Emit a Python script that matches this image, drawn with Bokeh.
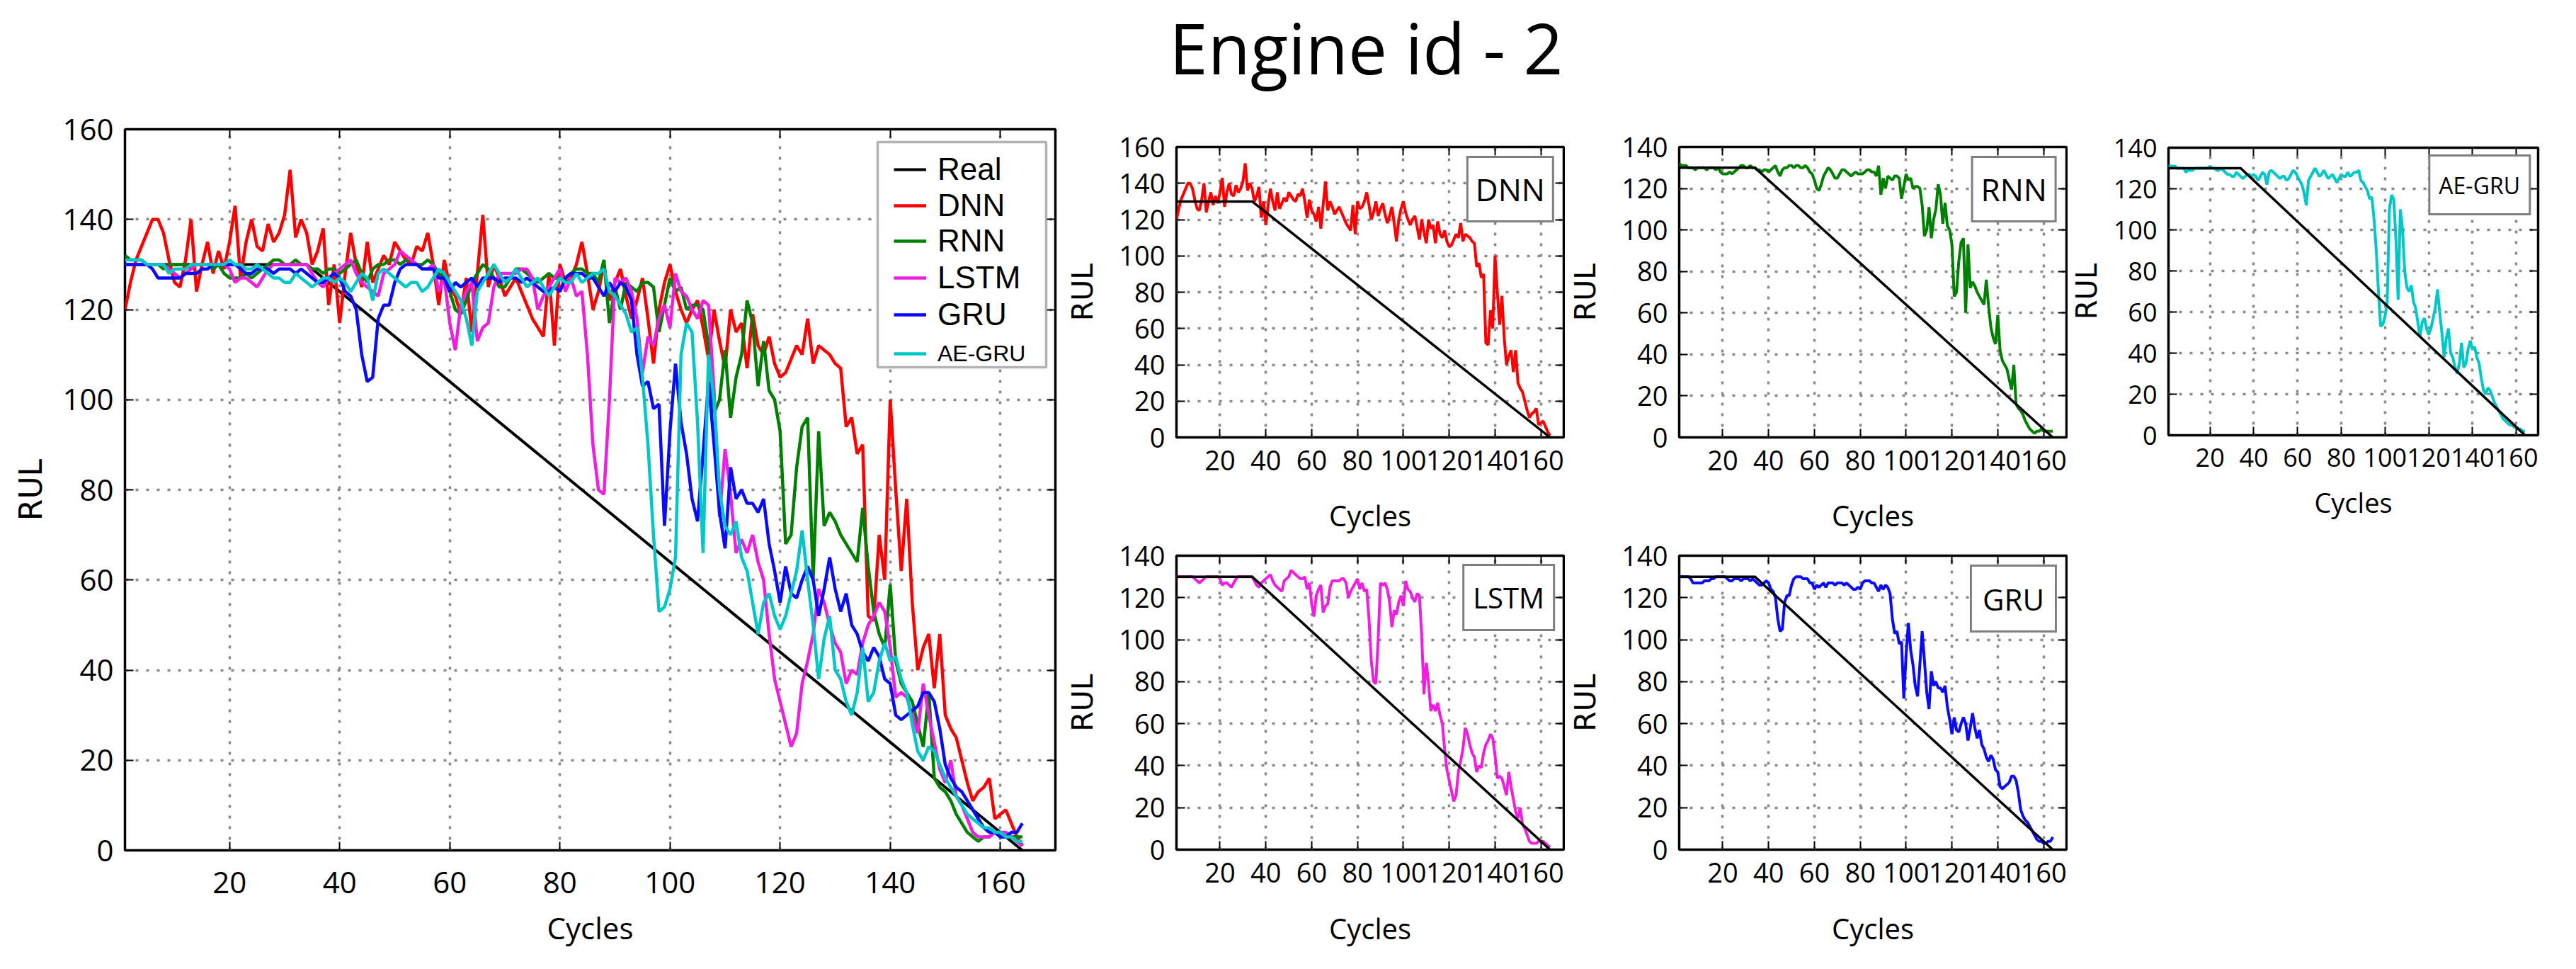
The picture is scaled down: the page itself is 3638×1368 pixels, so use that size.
from bokeh.plotting import figure
from bokeh.models import (FixedTicker, LinearAxis, Legend, LegendItem,
                          BoxAnnotation, Label, Range1d, Spacer)
from bokeh.layouts import row, column
from bokeh.embed import file_html
from bokeh.resources import INLINE

# ---------------- data ----------------
TITLE = "Engine id - 2"
cycles = list(range(1, 165))
real_x = [1, 34, 164]
real_y = [130, 130, 0]

dnn = [120, 126, 131, 134, 137, 140, 140, 137, 131, 126,
       125, 131, 140, 124, 130, 135, 128, 133, 129, 135,
       143, 127, 135, 140, 134, 133, 139, 135, 137, 141,
       151, 136, 140, 137, 130, 133, 138, 121, 130, 117,
       128, 137, 130, 125, 135, 126, 129, 132, 130, 135,
       133, 131, 130, 134, 133, 137, 130, 121, 131, 125,
       123, 119, 127, 115, 128, 141, 125, 130, 127, 123,
       125, 127, 124, 121, 118, 116, 114, 128, 112, 130,
       126, 127, 130, 135, 128, 120, 124, 130, 122, 126,
       129, 123, 118, 122, 127, 118, 108, 120, 126, 130,
       124, 120, 117, 120, 122, 116, 109, 120, 113, 107,
       120, 115, 117, 107, 119, 112, 110, 114, 108, 105,
       106, 109, 112, 110, 118, 108, 112, 111, 110, 108,
       107, 94, 96, 88, 90, 52, 51, 70, 60, 100,
       80, 62, 78, 55, 40, 45, 48, 36, 48, 30,
       27, 25, 20, 15, 11, 13, 14, 16, 7, 8,
       9, 6, 3, 1]

rnn = [132, 131, 131, 131, 130, 130, 130, 129, 130, 130,
       130, 130, 129, 130, 130, 130, 129, 130, 128, 127,
       127, 127, 128, 127, 128, 129, 130, 131, 131, 130,
       130, 131, 130, 130, 129, 129, 128, 129, 129, 128,
       129, 130, 131, 128, 126, 129, 130, 130, 131, 131,
       130, 131, 131, 130, 130, 131, 130, 128, 127, 124,
       120, 119, 122, 126, 128, 130, 129, 127, 125, 125,
       127, 129, 129, 128, 127, 126, 127, 128, 127, 127,
       127, 128, 129, 129, 128, 128, 126, 131, 117, 125,
       120, 126, 125, 124, 126, 126, 125, 115, 121, 127,
       124, 125, 120, 121, 121, 120, 112, 97, 100, 111,
       96, 105, 110, 122, 117, 103, 113, 102, 100, 93,
       68, 70, 85, 94, 96, 60, 93, 72, 75, 73,
       70, 68, 66, 64, 76, 63, 53, 48, 45, 59,
       42, 37, 35, 33, 28, 23, 35, 16, 14, 13,
       11, 8, 6, 4, 3, 2, 3, 3, 4, 3,
       3, 3, 3, 3]

lstm = [130, 130, 130, 130, 130, 130, 130, 130, 129, 128,
        127, 128, 129, 130, 130, 130, 130, 130, 130, 129,
        126, 127, 127, 126, 125, 127, 129, 130, 130, 130,
        130, 130, 130, 130, 128, 126, 125, 127, 128, 129,
        130, 131, 128, 126, 125, 124, 123, 128, 129, 130,
        133, 132, 131, 130, 129, 129, 130, 124, 127, 117,
        111, 121, 124, 126, 113, 116, 117, 125, 128, 128,
        128, 128, 129, 129, 127, 120, 123, 125, 127, 129,
        124, 127, 123, 124, 110, 90, 80, 79, 100, 127,
        126, 127, 124, 118, 106, 114, 112, 118, 121, 116,
        128, 124, 123, 120, 118, 122, 121, 102, 74, 89,
        79, 66, 69, 66, 70, 64, 60, 48, 38, 33,
        28, 23, 26, 37, 42, 48, 58, 55, 50, 46,
        44, 37, 40, 39, 46, 50, 52, 55, 53, 45,
        34, 35, 34, 30, 26, 37, 30, 24, 18, 15,
        20, 12, 10, 7, 4, 3, 3, 3, 4, 4,
        4, 3, 2, 1]

gru = [130, 130, 130, 130, 130, 129, 127, 127, 127, 127,
       127, 128, 128, 128, 129, 129, 130, 130, 130, 130,
       130, 129, 128, 128, 129, 129, 129, 128, 129, 129,
       129, 128, 129, 128, 127, 126, 126, 127, 128, 127,
       124, 123, 120, 110, 104, 105, 118, 121, 121, 126,
       129, 130, 130, 130, 129, 129, 129, 127, 127, 124,
       126, 125, 126, 127, 125, 127, 127, 127, 126, 127,
       127, 127, 126, 127, 126, 125, 124, 124, 125, 124,
       127, 128, 128, 128, 127, 127, 125, 123, 126, 124,
       126, 125, 122, 110, 103, 104, 98, 99, 72, 93,
       108, 95, 88, 78, 73, 88, 104, 90, 75, 67,
       85, 78, 80, 77, 77, 75, 78, 68, 62, 55,
       63, 57, 56, 60, 63, 60, 52, 58, 65, 58,
       53, 57, 50, 48, 44, 42, 45, 43, 38, 37,
       30, 29, 30, 31, 32, 35, 35, 33, 27, 19,
       16, 14, 13, 11, 9, 7, 5, 4, 4, 3,
       3, 4, 4, 6]

ae_gru = [131, 131, 131, 131, 130, 130, 130, 130, 128, 129,
          129, 129, 130, 130, 130, 130, 130, 130, 130, 131,
          130, 130, 129, 129, 130, 129, 128, 127, 127, 126,
          126, 128, 127, 126, 125, 126, 127, 127, 126, 127,
          126, 124, 126, 128, 127, 122, 128, 129, 128, 127,
          126, 125, 126, 126, 124, 125, 127, 129, 128, 126,
          124, 122, 118, 112, 124, 126, 128, 130, 128, 126,
          127, 129, 127, 125, 126, 127, 125, 123, 125, 127,
          126, 126, 128, 126, 127, 128, 128, 129, 124, 123,
          121, 119, 115, 116, 105, 90, 70, 53, 54, 58,
          65, 110, 117, 115, 95, 66, 110, 100, 80, 72,
          70, 73, 65, 62, 55, 48, 55, 57, 52, 49,
          52, 57, 62, 71, 60, 50, 38, 47, 52, 40,
          38, 33, 30, 35, 45, 33, 35, 42, 46, 42,
          43, 38, 35, 28, 22, 20, 23, 22, 19, 16,
          14, 12, 10, 8, 7, 6, 5, 5, 4, 4,
          3, 3, 2, 2]

series_names = ["DNN", "RNN", "LSTM", "GRU", "AE-GRU"]
series_values = [dnn, rnn, lstm, gru, ae_gru]
series_colors = ["#ff0000", "#008000", "#f01ee0", "#0a0aff", "#00c8c8"]
x_ticks = [20, 40, 60, 80, 100, 120, 140, 160]
y_ticks_160 = [0, 20, 40, 60, 80, 100, 120, 140, 160]
y_ticks_140 = [0, 20, 40, 60, 80, 100, 120, 140]
X_RANGE = (1, 170)

FONT = "Open Sans"
LEGEND_FONT = "Liberation Sans"
RUL_FONT = "DejaVu Sans"


def make_panel(width, height, borders, y_max, y_ticks, tick_px, cyc_px, rul_px,
               rul_standoff, cyc_standoff, xlab_standoff):
    left, right, top, bottom = borders
    p = figure(width=width, height=height, output_backend="svg",
               toolbar_location=None, title=None,
               x_range=Range1d(*X_RANGE), y_range=Range1d(0, y_max),
               min_border_left=left, min_border_right=right,
               min_border_top=top, min_border_bottom=bottom)
    p.background_fill_color = "white"
    p.border_fill_color = "white"
    p.outline_line_color = "black"
    p.outline_line_width = 3.5

    xa = p.xaxis[0]
    ya = p.yaxis[0]
    xa.ticker = FixedTicker(ticks=x_ticks)
    ya.ticker = FixedTicker(ticks=y_ticks)
    xa.axis_label = "Cycles"
    ya.axis_label = "RUL"
    for ax in (xa, ya):
        ax.major_label_text_font = FONT
        ax.major_label_text_font_size = f"{tick_px}px"
        ax.major_label_text_color = "black"
        ax.major_tick_in = 12
        ax.major_tick_out = 0
        ax.major_tick_line_width = 2
        ax.major_tick_line_color = "black"
        ax.minor_tick_line_color = None
        ax.axis_line_color = None
        ax.axis_label_text_font_style = "normal"
        ax.axis_label_text_color = "black"
    xa.major_label_standoff = xlab_standoff
    ya.major_label_standoff = 16
    xa.axis_label_text_font = FONT
    xa.axis_label_text_font_size = f"{cyc_px}px"
    xa.axis_label_standoff = cyc_standoff
    ya.axis_label_text_font = RUL_FONT
    ya.axis_label_text_font_size = f"{rul_px}px"
    ya.axis_label_standoff = rul_standoff

    for place, ticks in (("above", x_ticks), ("right", y_ticks)):
        ax = LinearAxis(ticker=FixedTicker(ticks=ticks),
                        major_label_overrides={t: "" for t in ticks},
                        major_label_text_font_size="0px",
                        major_label_standoff=0,
                        major_tick_in=12, major_tick_out=0,
                        major_tick_line_width=2,
                        major_tick_line_color="black",
                        minor_tick_line_color=None,
                        axis_line_color=None)
        p.add_layout(ax, place)

    p.xgrid.ticker = FixedTicker(ticks=x_ticks)
    p.ygrid.ticker = FixedTicker(ticks=y_ticks)
    for g in (p.xgrid[0], p.ygrid[0]):
        g.grid_line_color = "#8a8a8a"
        g.grid_line_dash = "4 11"
        g.grid_line_width = 3.5
    return p


# ---------------- title strip ----------------
TOTAL_W = 3594
p_title = figure(width=TOTAL_W, height=150, output_backend="svg",
                 toolbar_location=None, title=None,
                 x_axis_type=None, y_axis_type=None,
                 x_range=Range1d(0, TOTAL_W), y_range=Range1d(0, 150),
                 min_border=0)
p_title.outline_line_color = None
p_title.add_layout(Label(x=1929, y=84, text=TITLE, text_align="center",
                         text_baseline="alphabetic", text_font=FONT,
                         text_font_size="98px", text_color="black"))

# ---------------- main comparison plot ----------------
p_main = make_panel(1500, 1202, (176, 10, 32, 152), 160, y_ticks_160,
                    42, 42, 44, 16, 17, 30)
r_real = p_main.line(real_x, real_y, line_color="black", line_width=4)
main_rs = []
for name, vals, col in zip(series_names, series_values, series_colors):
    main_rs.append(p_main.line(cycles, vals, line_color=col, line_width=4.5))

# legend frame (pixel geometry of the box -> data coordinates)
FR_L, FR_R, FR_T, FR_B = 184, 1498, 190, 1208


def dx(px):
    return X_RANGE[0] + (px - FR_L) * (X_RANGE[1] - X_RANGE[0]) / (FR_R - FR_L)


def dy(py):
    return 160 * (FR_B - py) / (FR_B - FR_T)


p_main.add_layout(BoxAnnotation(left=dx(1247), right=dx(1485), top=dy(208),
                                bottom=dy(526), fill_color="white",
                                fill_alpha=1, line_color="black",
                                line_width=3.5))

legend_labels = ["Real"] + series_names
legend_renderers = [r_real] + main_rs
legend_rows = [237, 288, 338, 390, 442, 496]      # pixel row centres
legend_sizes = [44, 44, 44, 44, 44, 32]
ITEM_H = 48
for lab, rend, cy_px, fs in zip(legend_labels, legend_renderers,
                                legend_rows, legend_sizes):
    lg = Legend(items=[LegendItem(label=lab, renderers=[rend])],
                location=(1270 - FR_L, FR_B - cy_px - ITEM_H // 2 - 11),
                margin=0, padding=0, spacing=0,
                glyph_width=46, glyph_height=ITEM_H, label_height=ITEM_H,
                label_width=140, label_standoff=16,
                label_text_font=LEGEND_FONT, label_text_font_size=f"{fs}px",
                label_text_color="black", border_line_color=None,
                background_fill_alpha=0)
    p_main.add_layout(lg)

# ---------------- individual panels ----------------
panel_specs = {
    # name: (width, height, borders, y_max, y_ticks, tick, cyc, rul, rul_so, cyc_so,
    #        xlab_so, tag_font, tag_pad, tag_h, tag_margin)
    "DNN": (710, 607, (161, 2, 57, 135), 160, y_ticks_160, 38, 40, 41, 24, 33,
            18, 44, 10, 68, 13),
    "RNN": (710, 607, (161, 2, 57, 135), 140, y_ticks_140, 38, 40, 41, 24, 33,
            18, 44, 11, 66, 13),
    "LSTM": (710, 595, (161, 2, 27, 153), 140, y_ticks_140, 38, 40, 41, 24, 34,
             18, 40, 12, 65, 12),
    "GRU": (710, 595, (161, 2, 27, 153), 140, y_ticks_140, 38, 40, 41, 24, 34,
            18, 42, 15, 60, 13),
    "AE-GRU": (674, 614, (139, 10, 58, 150), 140, y_ticks_140, 36, 38, 40, 12, 21,
               18, 32, 12, 56, 10),
}

panels = {}
for name, vals, col in zip(series_names, series_values, series_colors):
    (w, h, b, ymax, yt, tk, cy, rl, rso, cso, xso,
     tag_font, tag_pad, tag_h, tag_m) = panel_specs[name]
    p = make_panel(w, h, b, ymax, yt, tk, cy, rl, rso, cso, xso)
    r = p.line(cycles, vals, line_color=col, line_width=4)
    p.line(real_x, real_y, line_color="black", line_width=3.5)
    tag = Legend(items=[LegendItem(label=name, renderers=[r])],
                 location="top_right", margin=tag_m, padding=tag_pad,
                 glyph_width=0, glyph_height=tag_h, label_height=tag_h,
                 label_standoff=0, label_text_font=FONT,
                 label_text_font_size=f"{tag_font}px",
                 label_text_color="black", border_line_color="black",
                 border_line_width=3.5, background_fill_color="white",
                 background_fill_alpha=1)
    p.add_layout(tag)
    panels[name] = p

body = row(p_main,
           column(panels["DNN"], panels["LSTM"]),
           column(panels["RNN"], panels["GRU"]),
           column(panels["AE-GRU"], Spacer(width=674, height=1202 - 614)))
page = column(p_title, body)

with open("out.html", "w") as f:
    f.write(file_html(page, INLINE))
